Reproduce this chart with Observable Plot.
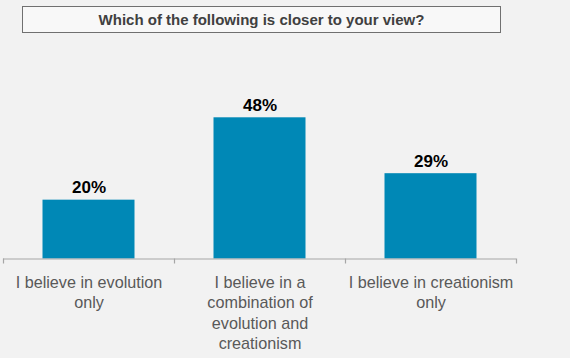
<!DOCTYPE html>
<html>
<head>
<meta charset="utf-8">
<script src="https://cdn.jsdelivr.net/npm/d3@7"></script>
<script src="https://cdn.jsdelivr.net/npm/@observablehq/plot@0.6"></script>
<style>
  html, body { margin: 0; padding: 0; background: #f2f2f2; }
  #wrap { position: relative; width: 570px; height: 358px; overflow: hidden; }
  #title {
    position: absolute; left: 22px; top: 6px; width: 477px; height: 25px;
    border: 1px solid #707070; background: #f8f8f8;
    font-family: "Liberation Sans", Arial, sans-serif; font-weight: bold; font-size: 15px;
    color: #404040; text-align: center; line-height: 25px;
  }
  svg { position: absolute; left: 0; top: 0; background: transparent; }
</style>
</head>
<body>
<div id="wrap">
  <div id="title">Which of the following is closer to your view?</div>
  <div id="chart"></div>
</div>
<script>
const categories = [
  "I believe in evolution\nonly",
  "I believe in a\ncombination of\nevolution and\ncreationism",
  "I believe in creationism\nonly"
];
const values = [20, 48, 29];
const valueLabels = ["20%", "48%", "29%"];

const data = categories.map((c, i) => ({cat: c, value: values[i], label: valueLabels[i]}));
const step = (516 - 3) / categories.length;

const chart = Plot.plot({
  width: 570,
  height: 358,
  marginLeft: 3,
  marginRight: 54,
  marginTop: 82,
  marginBottom: 99.5,
  style: {background: "transparent", fontFamily: "'Liberation Sans', Arial, sans-serif"},
  x: {domain: categories, padding: 0, axis: null},
  y: {domain: [0, 60], axis: null},
  marks: [
    Plot.barY(data, {x: "cat", y: "value", fill: "#0088b6", insetLeft: 39.5, insetRight: 39.5}),
    Plot.ruleY([0], {stroke: "#a6a6a6", strokeWidth: 1.2}),
    Plot.ruleX(data, {x: "cat", y1: 0, y2: -1.7, dx: -step / 2, stroke: "#a6a6a6", strokeWidth: 1.2}),
    Plot.ruleX(data.slice(-1), {x: "cat", y1: 0, y2: -1.7, dx: step / 2, stroke: "#a6a6a6", strokeWidth: 1.2}),
    Plot.text(data, {x: "cat", y: "value", text: "label", dy: -7, lineAnchor: "bottom",
      fontSize: 17, fontWeight: "bold", fill: "#000"}),
    Plot.text(data, {x: "cat", y: 0, text: "cat", dy: 14, lineAnchor: "top",
      fontSize: 16.2, fill: "#595959", lineHeight: 1.27})
  ]
});
document.getElementById("chart").appendChild(chart);
</script>
</body>
</html>
